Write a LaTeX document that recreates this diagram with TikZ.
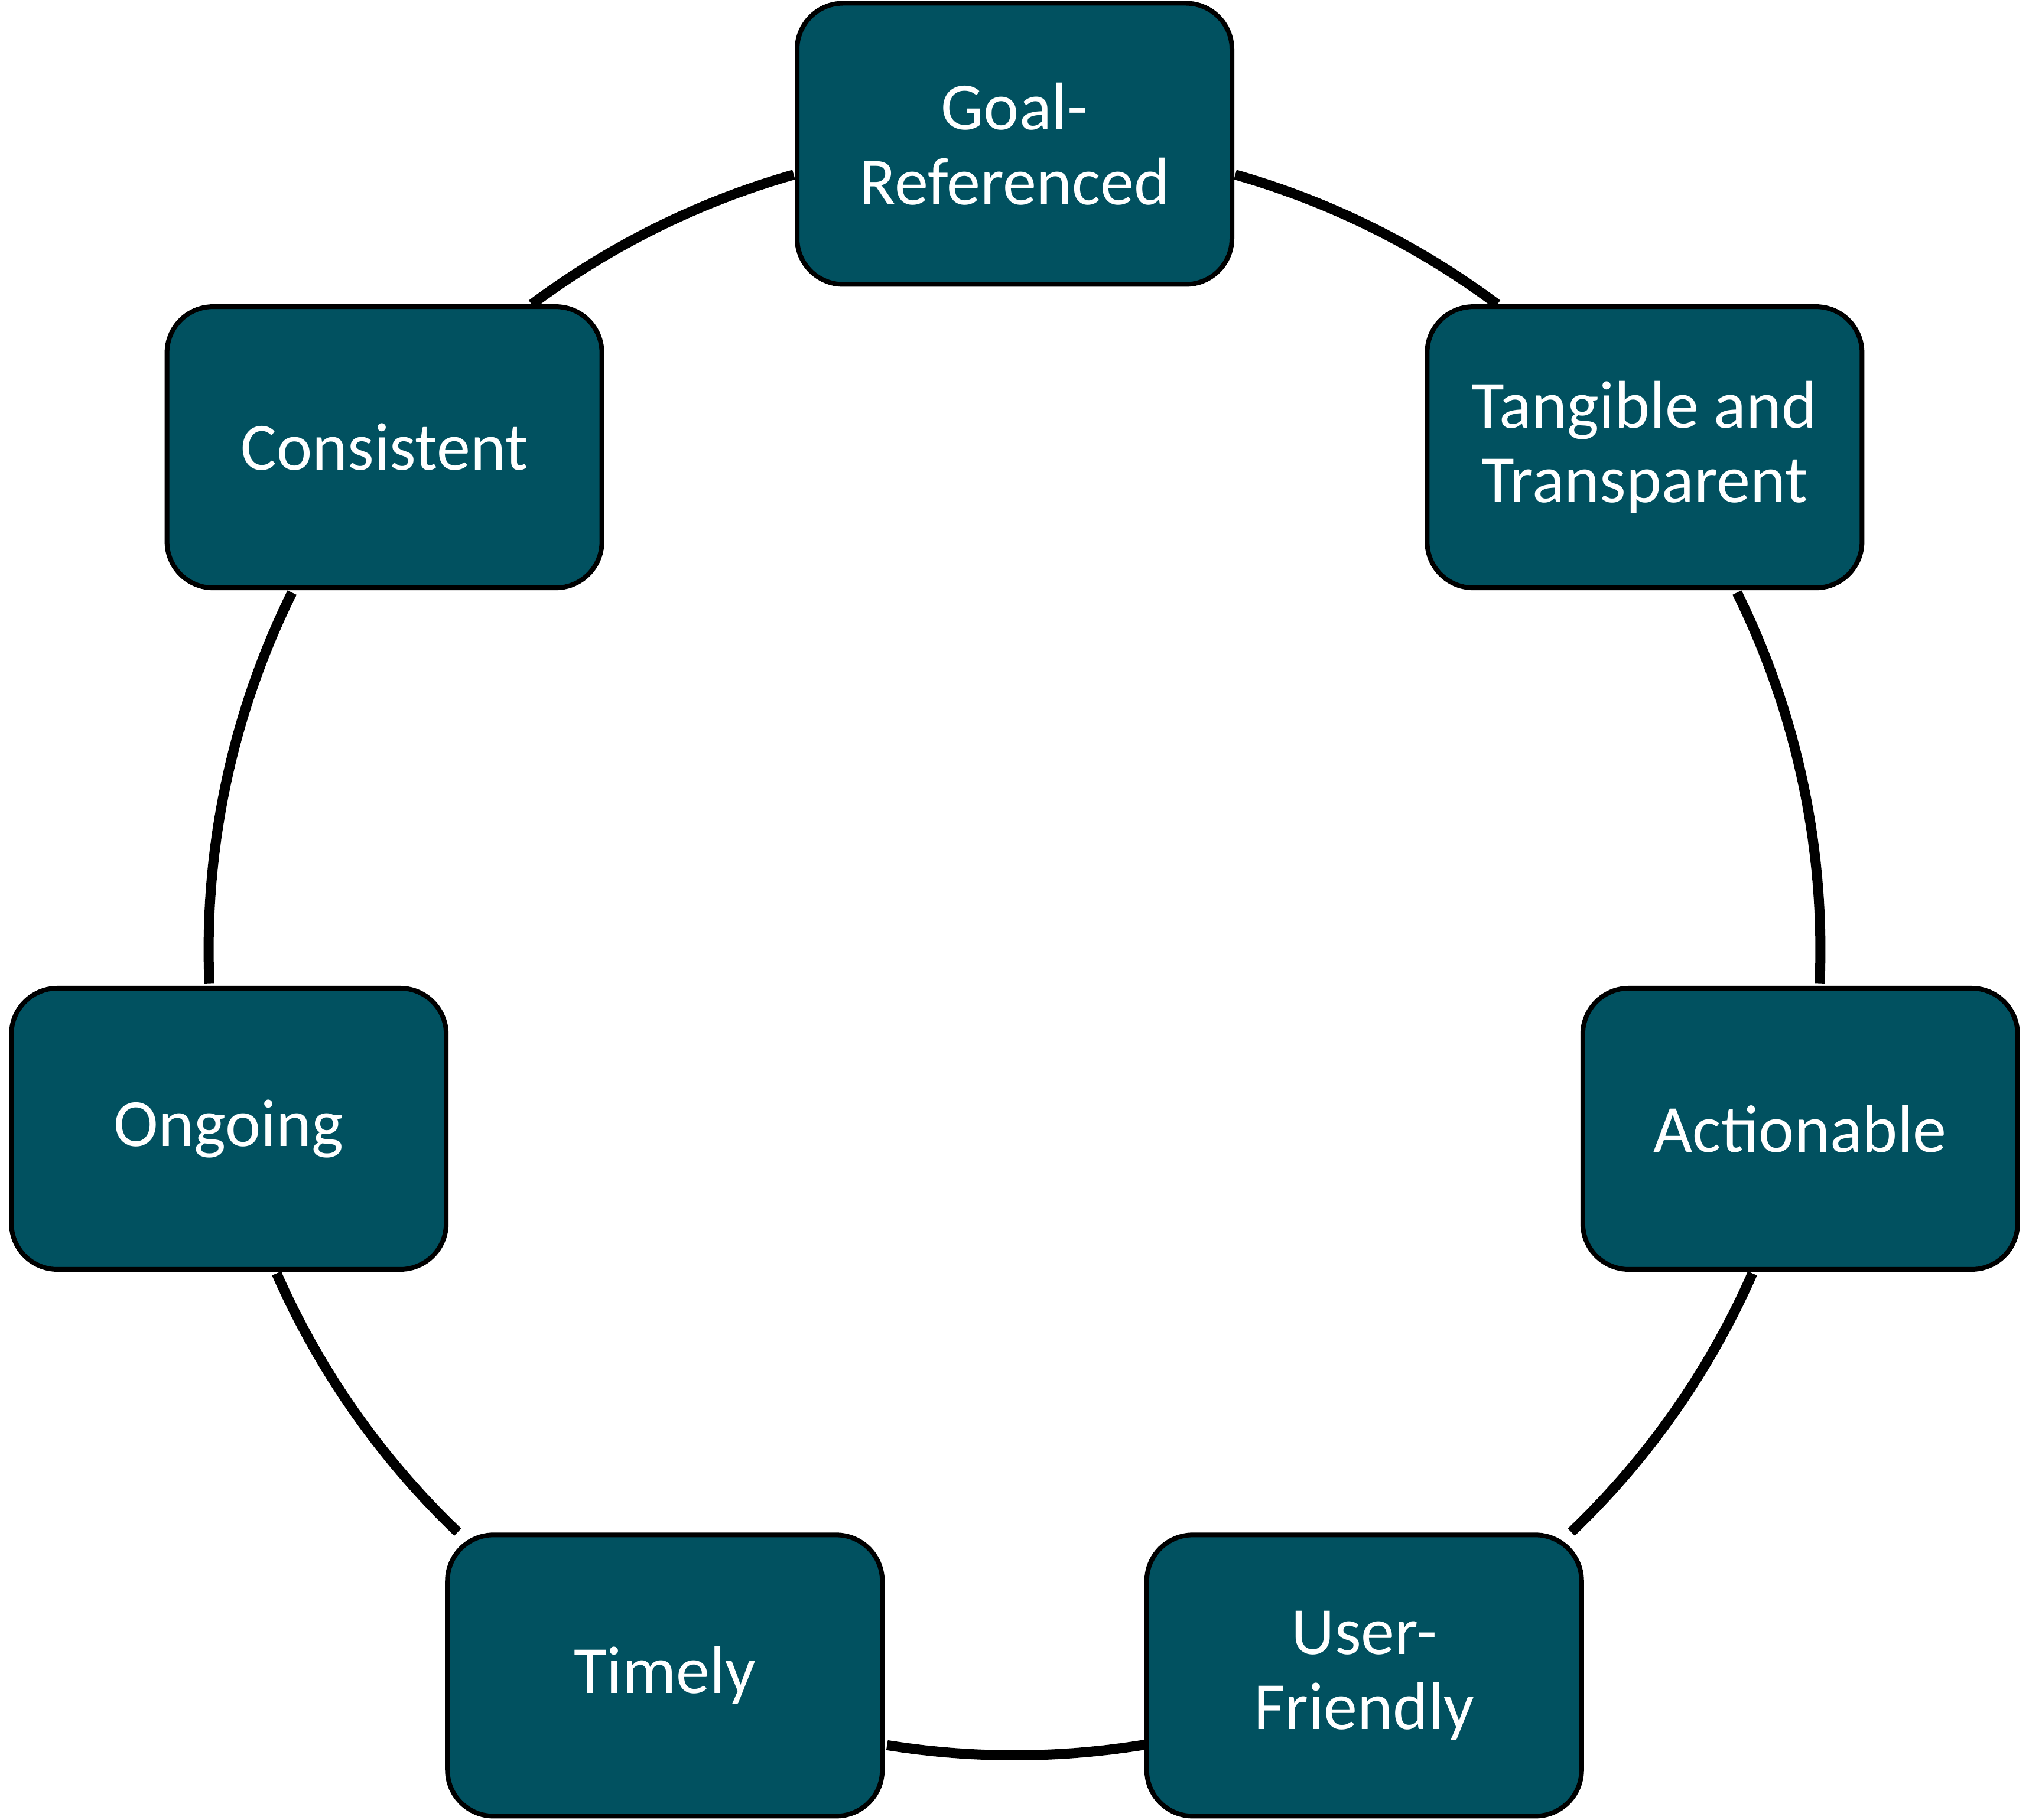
\documentclass[tikz,border=0pt]{standalone}
\usepackage{fontspec}
\setmainfont{Carlito}
\usetikzlibrary{calc}
\definecolor{boxfill}{RGB}{1,81,96}
\begin{document}
\begin{tikzpicture}[
  box/.style={draw=black, line width=0.08cm, fill=boxfill, rounded corners=0.78cm,
    minimum width=7.36cm, minimum height=4.76cm, align=center, text=white,
    inner sep=0pt, font=\fontsize{32.5}{36}\selectfont},
  conn/.style={draw=black, line width=0.17cm}
]
\useasboundingbox (0,0) rectangle (34.34,-30.81);
\def\R{13.64}
\coordinate (c) at (17.17,-16.075);

% connectors (arcs of the circle)
\coordinate (a1) at ($(c)+(74.1:\R)$);
\coordinate (a2) at ($(c)+(26.3:\R)$);
\coordinate (a3) at ($(c)+(-23.7:\R)$);
\coordinate (a4) at ($(c)+(-80.7:\R)$);
\coordinate (a5) at ($(c)+(-133.7:\R)$);
\coordinate (a6) at ($(c)+(182.4:\R)$);
\coordinate (a7) at ($(c)+(126.8:\R)$);
\draw[conn] (a1) arc[start angle=74.1, end angle=53.2, radius=\R];
\draw[conn] (a2) arc[start angle=26.3, end angle=-2.4, radius=\R];
\draw[conn] (a3) arc[start angle=-23.7, end angle=-46.3, radius=\R];
\draw[conn] (a4) arc[start angle=-80.7, end angle=-99.1, radius=\R];
\draw[conn] (a5) arc[start angle=-133.7, end angle=-156.3, radius=\R];
\draw[conn] (a6) arc[start angle=182.4, end angle=153.7, radius=\R];
\draw[conn] (a7) arc[start angle=126.8, end angle=105.9, radius=\R];

% boxes
\node[box] (goal) at ($(c)+(90:\R)$) {Goal-\\Referenced};
\node[box] (tang) at ($(c)+(38.571:\R)$) {Tangible and\\Transparent};
\node[box] (act) at ($(c)+(-12.857:\R)$) {Actionable};
\node[box] (user) at ($(c)+(-64.286:\R)$) {User-\\Friendly};
\node[box] (time) at ($(c)+(-115.714:\R)$) {Timely};
\node[box] (ongo) at ($(c)+(-167.143:\R)$) {Ongoing};
\node[box] (cons) at ($(c)+(141.429:\R)$) {Consistent};
\end{tikzpicture}
\end{document}
